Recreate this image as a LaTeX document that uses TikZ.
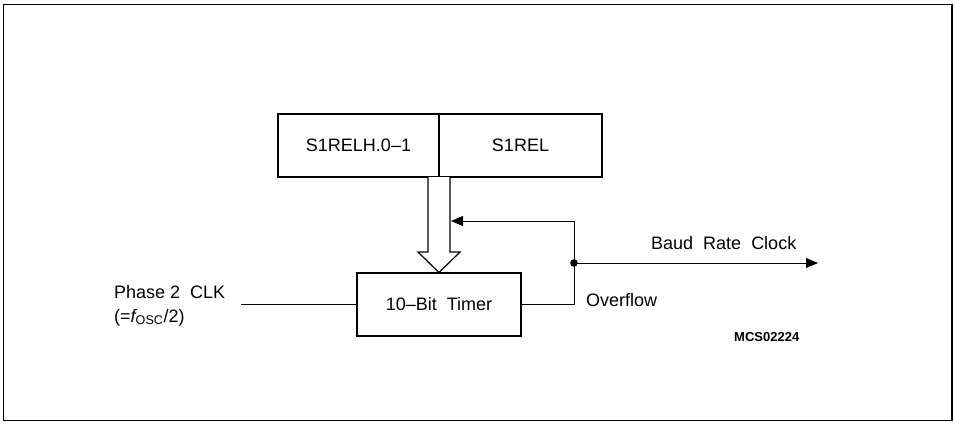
\documentclass[tikz,border=0pt]{standalone}
\usepackage{fontspec}
\setmainfont{Liberation Sans}
\usetikzlibrary{arrows.meta}
\begin{document}
\begin{tikzpicture}[x=1pt,y=-1pt,
  regbox/.style={draw,line width=2pt,minimum height=63pt,inner sep=0pt,font=\fontsize{18}{21}\selectfont},
  conn/.style={line width=1pt},
  lbl/.style={inner sep=0pt,font=\fontsize{18}{21}\selectfont},
  tip/.style={-{Triangle[length=12pt,width=10pt]}}]
\useasboundingbox (0,0) rectangle (955,424);
\draw[line width=1.5pt] (3.5,4.5) rectangle (952,420.5);
% register boxes
\node[regbox,minimum width=161pt] (relh) at (358.5,145.5) {S1RELH.0\textendash1};
\node[regbox,minimum width=163pt] (rel) at (520.5,145.5) {S1REL};
% timer
\node[regbox,minimum width=164pt] (timer) at (439,304) {10\textendash Bit\ \ Timer};
% hollow arrow
\draw[line width=1.2pt,fill=white] (428,177) -- (428,252) -- (418,252) -- (439,272.5) -- (460,252) -- (450,252) -- (450,177);
% input
\coordinate (in) at (241,304);
\draw[conn] (in) -- (timer.west);
\node[lbl,anchor=base west] (ph1) at (114,298.5) {Phase\ 2\ \ CLK};
\node[lbl,anchor=base west] (ph2) at (114,322) {(={\itshape f}\textsubscript{OSC}/2)};
% overflow and feedback
\coordinate (ov) at (574,304);
\coordinate (j) at (574,263);
\coordinate (fb) at (574,221);
\coordinate (fbtip) at (451,221);
\coordinate (out) at (818,263);
\draw[conn] (timer.east) -- (ov) -- (fb);
\draw[conn,tip] (fb) -- (fbtip);
\draw[conn,tip] (j) -- (out);
\fill (j) circle (3.8pt);
\node[lbl,anchor=base west] (baud) at (651,249.5) {Baud\ \ Rate\ \ Clock};
\node[lbl,anchor=base west] (ovl) at (586,306.5) {Overflow};
\node[inner sep=0pt,anchor=base west,font=\fontsize{13}{15}\selectfont\bfseries] (mcs) at (734,341) {MCS02224};
\end{tikzpicture}
\end{document}
